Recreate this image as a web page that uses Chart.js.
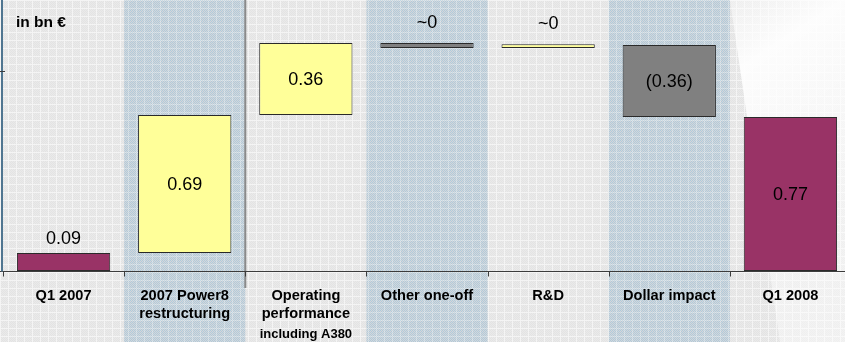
<!DOCTYPE html>
<html>
<head>
<meta charset="utf-8">
<script src="https://cdn.jsdelivr.net/npm/chart.js@4/dist/chart.umd.min.js"></script>
<style>
  html, body { margin: 0; padding: 0; overflow: hidden; background: #ffffff; }
  #wrap { position: relative; width: 852px; height: 342px; }
</style>
</head>
<body>
<div id="wrap"><canvas id="myGraph"></canvas></div>
<script>
// values (bn €)
const categories = [['Q1 2007'], ['2007 Power8', 'restructuring'], ['Operating', 'performance'], ['Other one-off'], ['R&D'], ['Dollar impact'], ['Q1 2008']];
const subLabels = ['', '', 'including A380', '', '', '', ''];
const barBase = [0, 0.09, 0.78, 1.115, 1.115, 0.77, 0];
const barTop = [0.09, 0.78, 1.14, 1.14, 1.134, 1.13, 0.77];
const valueLabels = ['0.09', '0.69', '0.36', '~0', '~0', '(0.36)', '0.77'];
const barColors = ['#993366', '#ffff99', '#ffff99', '#808080', '#ffff99', '#808080', '#993366'];
const shadedBands = [1, 3, 5];

function makePattern(blue) {
    let c = document.createElement('canvas');
    c.width = 8; c.height = 8;
    let g = c.getContext('2d');
    for (let y = 0; y < 8; y++) {
        for (let x = 0; x < 8; x++) {
            let col;
            if (blue) {
                col = ((x + y) % 2 == 0) ? '#b0cadb' : '#d4d7da';
                if (x == 0 || y == 0) col = ((x + y) % 2 == 0) ? '#c6d9e4' : '#e2e4e6';
            } else {
                col = ((x + y) % 2 == 0) ? '#e3e3e3' : '#eaeaea';
                if (x == 0 || y == 0) col = '#f4f4f4';
            }
            g.fillStyle = col;
            g.fillRect(x, y, 1, 1);
        }
    }
    return c;
}

const backdrop = {
    id: 'backdrop',
    beforeDraw(chart) {
        const ctx = chart.ctx;
        const x = chart.scales.x;
        const w = chart.width, h = chart.height;
        ctx.save();
        ctx.fillStyle = ctx.createPattern(makePattern(false), 'repeat');
        ctx.fillRect(0, 0, w, h);
        let half = (x.getPixelForValue(1) - x.getPixelForValue(0)) / 2;
        ctx.fillStyle = ctx.createPattern(makePattern(true), 'repeat');
        shadedBands.forEach(function (i) {
            let cx = x.getPixelForValue(i);
            ctx.fillRect(cx - half, 0, half * 2, h);
        });
        // soft light on the upper right
        let grad = ctx.createLinearGradient(700, 0, 845, 220);
        grad.addColorStop(0, 'rgba(255,255,255,0.2)');
        grad.addColorStop(0.3, 'rgba(255,255,255,0.9)');
        grad.addColorStop(1, 'rgba(255,255,255,0.45)');
        ctx.fillStyle = grad;
        ctx.beginPath();
        ctx.moveTo(730, 0); ctx.lineTo(852, 0); ctx.lineTo(852, 342); ctx.lineTo(780, 342);
        ctx.closePath();
        ctx.fill();
        // separator after the power8 column
        let sep = x.getPixelForValue(1) + half;
        ctx.fillStyle = '#8a8a8a';
        ctx.fillRect(sep - 1, 0, 2, 288);
        ctx.restore();
    },
    afterDatasetsDraw(chart) {
        const ctx = chart.ctx;
        const x = chart.scales.x, y = chart.scales.y;
        const half = (x.getPixelForValue(1) - x.getPixelForValue(0)) / 2;
        ctx.save();
        // axes
        ctx.strokeStyle = '#3c3c3c';
        ctx.lineWidth = 1;
        let y0 = Math.round(y.getPixelForValue(0)) + 0.5;
        ctx.beginPath();
        ctx.moveTo(0, y0); ctx.lineTo(chart.width, y0);
        for (let i = 0; i < categories.length; i++) {
            let tx = Math.round(x.getPixelForValue(i) - half) + 0.5;
            ctx.moveTo(tx, y0); ctx.lineTo(tx, y0 + 5);
        }
        ctx.stroke();
        ctx.strokeStyle = '#4f7590';
        ctx.lineWidth = 2;
        ctx.beginPath();
        ctx.moveTo(2, 0); ctx.lineTo(2, y0);
        ctx.stroke();
        ctx.strokeStyle = '#3c3c3c';
        ctx.lineWidth = 1;
        let y1 = Math.round(y.getPixelForValue(1)) + 0.5;
        ctx.beginPath();
        ctx.moveTo(0, y1); ctx.lineTo(5, y1);
        ctx.stroke();

        // value labels
        ctx.fillStyle = '#000';
        ctx.font = '18px "Liberation Sans", Arial, sans-serif';
        ctx.textAlign = 'center';
        ctx.textBaseline = 'middle';
        chart.getDatasetMeta(0).data.forEach(function (bar, i) {
            let top = Math.min(bar.y, bar.base), bottom = Math.max(bar.y, bar.base);
            let ly = (bottom - top > 40) ? (top + bottom) / 2 : top - (bottom - top > 10 ? 15 : 21);
            ctx.fillText(valueLabels[i], bar.x, ly + 1);
        });

        // category labels
        ctx.font = 'bold 14.6px "Liberation Sans", Arial, sans-serif';
        categories.forEach(function (lines, i) {
            let cx = x.getPixelForValue(i);
            lines.forEach(function (t, k) {
                ctx.fillText(t, cx, 296 + k * 18);
            });
            if (subLabels[i]) {
                ctx.font = 'bold 13px "Liberation Sans", Arial, sans-serif';
                ctx.fillText(subLabels[i], cx, 334);
                ctx.font = 'bold 14.6px "Liberation Sans", Arial, sans-serif';
            }
        });

        ctx.textAlign = 'left';
        ctx.font = 'bold 15.5px "Liberation Sans", Arial, sans-serif';
        ctx.fillText('in bn €', 16, 23);
        ctx.restore();
    }
};

const ctx = document.getElementById('myGraph').getContext('2d');
let barChart = new Chart(ctx, {
    type: 'bar',
    data: {
        labels: categories.map(l => l.join(' ')),
        datasets: [
            {
                data: barBase.map((b, i) => [b, barTop[i]]),
                backgroundColor: barColors,
                borderColor: '#2a2a2a',
                borderWidth: 1,
                borderSkipped: false,
                barPercentage: 0.77,
                categoryPercentage: 1
            }
        ]
    },
    options: {
        responsive: true,
        maintainAspectRatio: false,
        animation: false,
        layout: { padding: { left: 3, right: 1, top: 0, bottom: 71 } },
        plugins: { legend: { display: false }, tooltip: { enabled: false } },
        scales: {
            x: { display: false },
            y: { display: false, min: 0, max: 1.355 }
        }
    },
    plugins: [backdrop]
});
</script>
</body>
</html>
